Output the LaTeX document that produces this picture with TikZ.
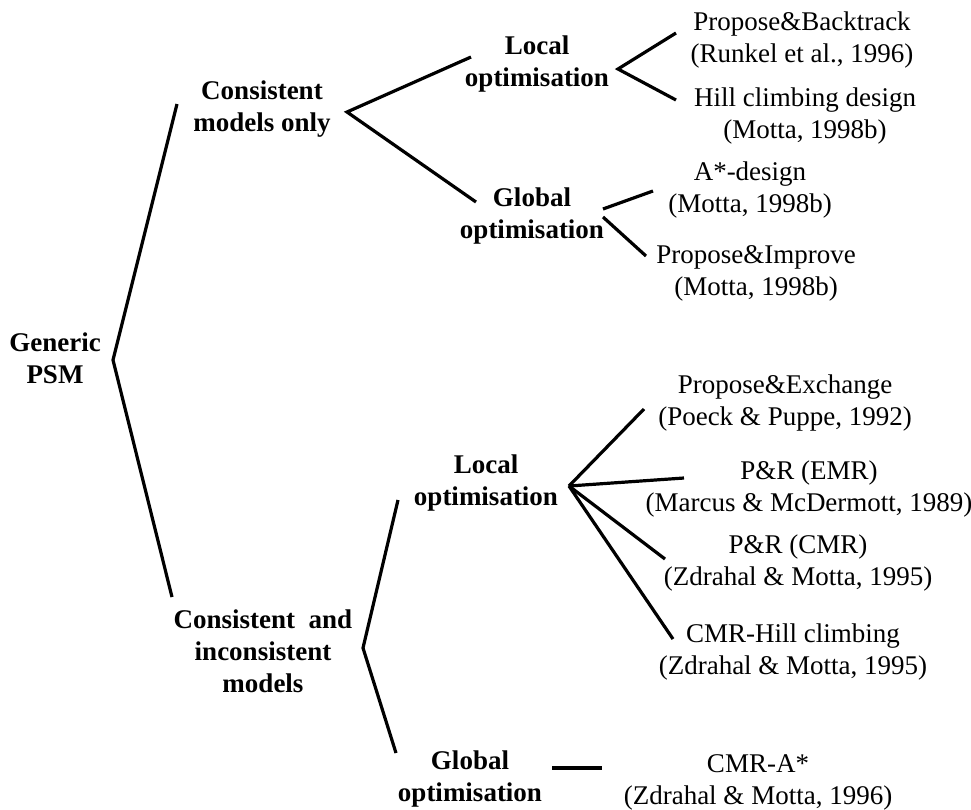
\documentclass[tikz,border=0pt]{standalone}
\usepackage{fontspec}
\setmainfont{Liberation Serif}
\usepackage{tikz}

\begin{document}
\begin{tikzpicture}[x=0.5pt,y=-0.5pt]
			\tikzstyle{head} = [align=center,inner sep=0pt,font=\fontsize{13.5}{16}\selectfont\bfseries]
			\tikzstyle{leaf} = [align=center,inner sep=0pt,font=\fontsize{13.5}{16}\selectfont]
			\tikzstyle{branch} = [line width=1.6pt]
			
			\useasboundingbox (0,0) rectangle (971,810);
			
			\node[head] (psm) at (55,358) {Generic\\PSM};
			\node[head] (cmo) at (262,109) {Consistent\\models only};
			\node[head] (cim) at (263,651) {Consistent \ and\\inconsistent\\models};
			\node[head] (loc1) at (537,64) {Local\\optimisation};
			\node[head] (glb1) at (532,216) {Global\\optimisation};
			\node[head] (loc2) at (486,483) {Local\\optimisation};
			\node[head] (glb2) at (470,779) {Global\\optimisation};
			
			\node[leaf] (pb) at (802,40) {Propose\&Backtrack\\(Runkel et al., 1996)};
			\node[leaf] (hc) at (805,116) {Hill climbing design\\(Motta, 1998b)};
			\node[leaf] (ad) at (750,190) {A*-design\\(Motta, 1998b)};
			\node[leaf] (pi) at (756,273) {Propose\&Improve\\(Motta, 1998b)};
			\node[leaf] (pe) at (785,403) {Propose\&Exchange\\(Poeck \& Puppe, 1992)};
			\node[leaf] (emr) at (809,489) {P\&R (EMR)\\(Marcus \& McDermott, 1989)};
			\node[leaf] (cmr) at (798,563) {P\&R (CMR)\\(Zdrahal \& Motta, 1995)};
			\node[leaf] (chc) at (793,652) {CMR-Hill climbing\\(Zdrahal \& Motta, 1995)};
			\node[leaf] (ca) at (758,782) {CMR-A*\\(Zdrahal \& Motta, 1996)};
			
			% forks
			\coordinate (f-psm) at (113,360);
			\coordinate (f-cmo) at (347,112);
			\coordinate (f-cim) at (363,648);
			\coordinate (f-loc1) at (618,69);
			\coordinate (f-glb1a) at (603,209);
			\coordinate (f-glb1b) at (603,217);
			\coordinate (f-loc2) at (569,486);
			\coordinate (f-glb2) at (552,768);
			
			% branch ends
			\coordinate (e-cmo) at (177,104);
			\coordinate (e-cim) at (172,597);
			\coordinate (e-loc1) at (471,57);
			\coordinate (e-glb1) at (476,202);
			\coordinate (e-loc2) at (398,500);
			\coordinate (e-glb2) at (396,753);
			\coordinate (e-pb) at (676,33);
			\coordinate (e-hc) at (676,100);
			\coordinate (e-ad) at (653,191);
			\coordinate (e-pi) at (646,256);
			\coordinate (e-pe) at (644,409);
			\coordinate (e-emr) at (684,478);
			\coordinate (e-cmr) at (665,559);
			\coordinate (e-chc) at (673,639);
			\coordinate (e-ca) at (602,768);
			
			\draw[branch] (e-cmo) -- (f-psm) -- (e-cim);
			\draw[branch] (e-loc1) -- (f-cmo) -- (e-glb1);
			\draw[branch] (e-loc2) -- (f-cim) -- (e-glb2);
			\draw[branch] (e-pb) -- (f-loc1) -- (e-hc);
			\draw[branch] (f-glb1a) -- (e-ad);
			\draw[branch] (f-glb1b) -- (e-pi);
			\draw[branch] (f-loc2) -- (e-pe);
			\draw[branch] (f-loc2) -- (e-emr);
			\draw[branch] (f-loc2) -- (e-cmr);
			\draw[branch] (f-loc2) -- (e-chc);
			\draw[branch] (f-glb2) -- (e-ca);
		\end{tikzpicture}
\end{document}
